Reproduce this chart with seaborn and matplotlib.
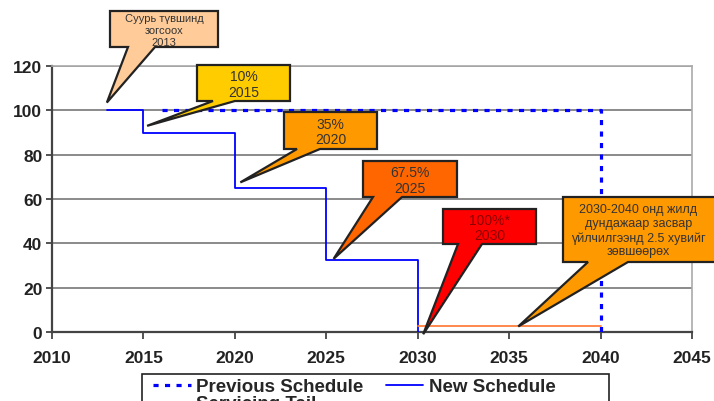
import pandas as pd
import matplotlib
matplotlib.use("Agg")
import matplotlib.pyplot as plt
import matplotlib.patches as mpatches
from matplotlib.transforms import IdentityTransform
import seaborn as sns

# --- data ---
prev_years = [2016, 2040, 2040]
prev_values = [100, 100, 0]

new_years = [2013, 2015, 2020, 2025, 2030]
new_values = [100, 90, 65, 32.5, 0]

tail_years = [2030, 2040]
tail_values = [2.5, 2.5]

x_ticks = [2010, 2015, 2020, 2025, 2030, 2035, 2040, 2045]
y_ticks = [0, 20, 40, 60, 80, 100, 120]

callout_texts = [
    "Суурь түвшинд\nзогсоох\n2013",
    "10%\n2015",
    "35%\n2020",
    "67.5%\n2025",
    "100%*\n2030",
    "2030-2040 онд жилд\nдундажаар засвар\nүйлчилгээнд 2.5 хувийг\nзөвшөөрөх",
]
callout_tip_x = [2013.0, 2015.2, 2020.3, 2025.4, 2030.3, 2035.5]
callout_tip_y = [103.5, 93, 67.5, 33, -1, 2.5]
callout_colors = ["#FFCC99", "#FFCC00", "#FF9900", "#FF6600", "#FF0000", "#FF9900"]
callout_text_colors = ["#333333", "#333333", "#333333", "#333333", "#8B0000", "#333333"]

# --- figure ---
sns.set_theme(style="white")
plt.rcParams["font.family"] = ["Liberation Sans", "DejaVu Sans"]

W, H = 714, 402
fig = plt.figure(figsize=(W / 100, H / 100), dpi=100)
ax = fig.add_axes([52 / W, 1 - 333 / H, 640 / W, 266 / H])

df_prev = pd.DataFrame({"Year": prev_years, "Value": prev_values})
df_new = pd.DataFrame({"Year": new_years, "Value": new_values})
df_tail = pd.DataFrame({"Year": tail_years, "Value": tail_values})

sns.lineplot(data=df_prev, x="Year", y="Value", ax=ax, sort=False, estimator=None,
             color="#0000FF", linewidth=2.3, linestyle=(0, (1.6, 2.0)), label="Previous Schedule", zorder=3)
sns.lineplot(data=df_new, x="Year", y="Value", ax=ax, sort=False, estimator=None,
             color="#0000FF", linewidth=1.3, drawstyle="steps-post", label="New Schedule", zorder=3)
sns.lineplot(data=df_tail, x="Year", y="Value", ax=ax, sort=False, estimator=None,
             color="#FF7F3F", linewidth=1.3, label="Servicing Tail", zorder=3)

ax.set_xlim(2010, 2045)
ax.set_ylim(0, 120)
ax.set_xticks(x_ticks)
ax.set_yticks(y_ticks)
ax.set_xlabel("")
ax.set_ylabel("")
ax.grid(axis="y", color="#777777", linewidth=1.2)
ax.grid(axis="x", visible=False)
ax.set_axisbelow(True)

for s in ["left", "bottom"]:
    ax.spines[s].set_color("#444444")
    ax.spines[s].set_linewidth(1.6)
for s in ["top", "right"]:
    ax.spines[s].set_color("#AAAAAA")
    ax.spines[s].set_linewidth(1.2)

ax.tick_params(axis="x", direction="out", length=5, width=1.3, color="#444444", pad=8,
               labelsize=12.5, labelcolor="#222222")
ax.tick_params(axis="y", direction="out", length=4, width=1.3, color="#444444", pad=3,
               labelsize=12.5, labelcolor="#222222")
ax.tick_params(bottom=True, left=True)
for lab in ax.get_xticklabels() + ax.get_yticklabels():
    lab.set_fontweight("bold")

# legend (cut off at the bottom like the original); frame drawn separately
handles, labels = ax.get_legend_handles_labels()
order = [0, 2, 1]
ax.legend([handles[i] for i in order], [labels[i] for i in order], ncol=2,
          loc="upper left", bbox_to_anchor=(153 / W, 1 - 379 / H),
          bbox_transform=fig.transFigure, frameon=False, borderpad=0,
          handlelength=2.0, handletextpad=0.3, columnspacing=1.2, borderaxespad=0,
          labelspacing=0.0, prop={"weight": "bold", "size": 13.5})
frame = mpatches.Rectangle((142, H - 420), 609 - 142, 420 - 375, transform=IdentityTransform(),
                           facecolor="none", edgecolor="#222222", linewidth=1.2, clip_on=False)
fig.patches.append(frame)

# callout boxes: (left, top, right, bottom) in pixels, tail base (left, right)
boxes = [(110, 12, 218, 48), (197, 66, 290, 102), (284, 113, 377, 150),
         (363, 162, 457, 198), (443, 210, 536, 245), (563, 198, 716, 263)]
bases = [(128, 155), (213, 235), (297, 320), (373, 402), (458, 482), (588, 628)]
font_sizes = [8, 10, 10, 10, 10, 9]
line_spacings = [1.2, 1.1, 1.1, 1.1, 1.1, 1.2]

fig.canvas.draw()
for i, text in enumerate(callout_texts):
    x0, y0, x1, y1 = boxes[i]
    bl, br = bases[i]
    tx, ty = ax.transData.transform((callout_tip_x[i], callout_tip_y[i]))
    pts = [(x0, H - y0), (x1, H - y0), (x1, H - y1), (br, H - y1), (tx, ty),
           (bl, H - y1), (x0, H - y1)]
    poly = mpatches.Polygon(pts, closed=True, transform=IdentityTransform(),
                            facecolor=callout_colors[i], edgecolor="#222222",
                            linewidth=1.6, joinstyle="miter", clip_on=False, zorder=5)
    ax.add_patch(poly)
    ax.text((x0 + min(x1, W)) / 2, H - (y0 + y1) / 2 - 1, text, transform=IdentityTransform(),
            ha="center", va="center", fontsize=font_sizes[i], color=callout_text_colors[i],
            linespacing=line_spacings[i], zorder=6, clip_on=False)

fig.savefig("out.png", dpi=100)
